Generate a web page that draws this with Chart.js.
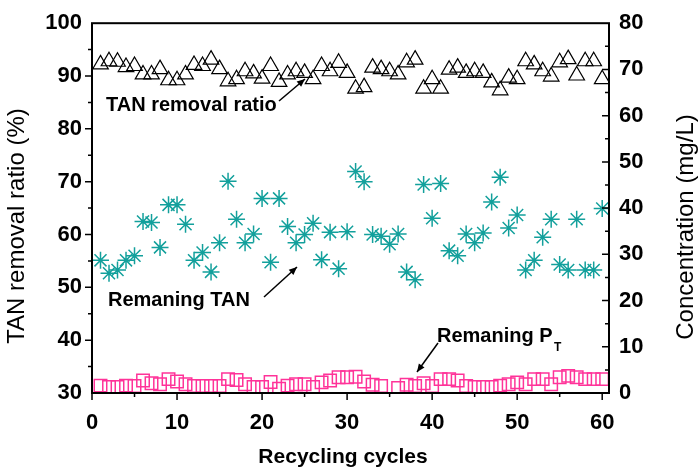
<!DOCTYPE html>
<html>
<head>
<meta charset="utf-8">
<script src="https://cdn.jsdelivr.net/npm/chart.js@4.4.1/dist/chart.umd.min.js"></script>
<style>
  html, body { margin: 0; padding: 0; background: #fff; }
  #wrap { width: 700px; height: 473px; position: relative; }
</style>
</head>
<body>
<div id="wrap"><canvas id="myChart"></canvas></div>
<script>
// Recycling cycles 1..60
const cycles = Array.from({ length: 60 }, (_, i) => i + 1);

// TAN removal ratio (%), left axis
const removalRatio = [
    92.2, 92.8, 92.7, 91.7, 91.9, 90.3, 90.3, 91.3, 89.2, 89.2,
    90.3, 92.1, 91.9, 93.1, 91.3, 89.0, 89.4, 90.9, 90.5, 89.5,
    91.9, 88.9, 90.3, 90.9, 90.6, 89.4, 91.9, 90.9, 92.5, 90.6,
    87.6, 87.9, 91.6, 91.3, 90.9, 90.3, 92.6, 93.1, 87.6, 89.4,
    87.6, 91.2, 91.6, 90.6, 90.9, 90.6, 88.8, 87.3, 89.7, 89.4,
    92.8, 92.2, 90.9, 89.9, 92.6, 93.2, 90.1, 92.8, 92.8, 89.4
];

// Remaning TAN (mg/L), right axis
const remainingTAN = [
    28.7, 25.9, 26.6, 28.7, 29.7, 37.1, 36.9, 31.5, 40.7, 40.7,
    36.5, 28.7, 30.4, 26.2, 32.5, 45.8, 37.6, 32.5, 34.4, 42.1,
    28.3, 42.1, 36.0, 32.5, 34.3, 36.7, 28.8, 34.8, 26.9, 34.9,
    47.9, 45.7, 34.3, 33.9, 32.2, 34.4, 26.2, 24.5, 45.1, 37.8,
    45.3, 30.8, 29.7, 34.4, 32.5, 34.6, 41.3, 46.7, 35.7, 38.5,
    26.6, 28.7, 33.7, 37.6, 27.8, 26.6, 37.6, 26.6, 26.6, 39.9
];

// Remaning PT (mg/L), right axis
const remainingPT = [
    1.6, 1.3, 1.3, 1.6, 1.5, 2.7, 2.1, 1.9, 3.0, 2.5,
    1.9, 1.5, 1.5, 1.5, 1.5, 3.0, 2.8, 1.9, 1.3, 1.3,
    2.4, 0.9, 1.6, 1.9, 1.9, 1.3, 2.3, 2.7, 3.4, 3.4,
    3.5, 2.5, 1.8, 1.5, null, 1.1, 1.8, 1.5, 2.1, 1.5,
    3.0, 3.0, 2.7, 1.5, 1.3, 1.3, 1.3, 1.6, 1.9, 2.3,
    1.9, 3.0, 3.0, 1.9, 3.4, 3.7, 3.4, 3.0, 3.0, 3.0
];

// tick labels
const xTicks = [0, 10, 20, 30, 40, 50, 60];
const leftTicks = [30, 40, 50, 60, 70, 80, 90, 100];
const rightTicks = [0, 10, 20, 30, 40, 50, 60, 70, 80];

const toPoints = vals => cycles.map((c, i) => ({ x: c, y: vals[i] }));

const FONT = "'Liberation Sans', Arial, sans-serif";

// frame, tick marks, axis titles, annotations
const decorPlugin = {
    id: "decor",
    afterDraw(chart) {
        const ctx = chart.ctx;
        const a = chart.chartArea;
        const sx = chart.scales.x, sy = chart.scales.y, sy1 = chart.scales.y1;
        ctx.save();
        ctx.strokeStyle = "#000";
        ctx.lineWidth = 2;
        ctx.strokeRect(a.left, a.top, a.right - a.left, a.bottom - a.top);

        ctx.lineWidth = 1.5;
        ctx.beginPath();
        // bottom axis, outward
        for (let v = 0; v <= 60; v += 5) {
            const px = sx.getPixelForValue(v);
            const len = v % 10 === 0 ? 7 : 4;
            ctx.moveTo(px, a.bottom);
            ctx.lineTo(px, a.bottom + len);
        }
        // left axis, outward
        for (let v = 35; v <= 95; v += 5) {
            const py = sy.getPixelForValue(v);
            const len = v % 10 === 0 ? 7 : 4;
            ctx.moveTo(a.left, py);
            ctx.lineTo(a.left - len, py);
        }
        // right axis, inward
        for (let v = 5; v <= 75; v += 5) {
            const py = sy1.getPixelForValue(v);
            const len = v % 10 === 0 ? 7 : 4;
            ctx.moveTo(a.right, py);
            ctx.lineTo(a.right - len, py);
        }
        ctx.stroke();

        // axis titles
        ctx.fillStyle = "#000";
        ctx.textAlign = "center";
        ctx.textBaseline = "middle";
        ctx.font = "bold 21px " + FONT;
        ctx.fillText("Recycling cycles", 343, 457);

        ctx.font = "24px " + FONT;
        ctx.save();
        ctx.translate(17, 226);
        ctx.rotate(-Math.PI / 2);
        ctx.fillText("TAN removal ratio (%)", 0, 0);
        ctx.restore();
        ctx.save();
        ctx.translate(686, 227);
        ctx.rotate(-Math.PI / 2);
        ctx.fillText("Concentration (mg/L)", 0, 0);
        ctx.restore();

        // annotations
        ctx.font = "bold 20px " + FONT;
        ctx.textAlign = "left";
        ctx.fillText("TAN removal ratio", 106, 105);
        ctx.fillText("Remaning TAN", 108, 300);
        ctx.fillText("Remaning P", 437, 336);
        ctx.font = "bold 12px " + FONT;
        ctx.fillText("T", 554, 348);

        function arrow(x1, y1, x2, y2) {
            ctx.beginPath();
            ctx.lineWidth = 1.5;
            ctx.moveTo(x1, y1);
            ctx.lineTo(x2, y2);
            ctx.stroke();
            const ang = Math.atan2(y2 - y1, x2 - x1);
            const h = 8, w = 3.5;
            ctx.beginPath();
            ctx.moveTo(x2, y2);
            ctx.lineTo(x2 - h * Math.cos(ang) + w * Math.sin(ang), y2 - h * Math.sin(ang) - w * Math.cos(ang));
            ctx.lineTo(x2 - h * Math.cos(ang) - w * Math.sin(ang), y2 - h * Math.sin(ang) + w * Math.cos(ang));
            ctx.closePath();
            ctx.fill();
        }
        arrow(279, 101, 305, 79);
        arrow(264, 297, 297, 267);
        arrow(438, 343, 417, 372);
        ctx.restore();
    }
};

document.addEventListener("DOMContentLoaded", () => {
    const ctx = document.getElementById("myChart").getContext("2d");
    new Chart(ctx, {
        type: "scatter",
        data: {
            datasets: [
                {
                    label: "TAN removal ratio",
                    data: toPoints(removalRatio),
                    yAxisID: "y",
                    pointStyle: "triangle",
                    pointRadius: 9,
                    borderColor: "#000",
                    backgroundColor: "rgba(0,0,0,0)",
                    borderWidth: 1.2,
                },
                {
                    label: "Remaning TAN",
                    data: toPoints(remainingTAN),
                    yAxisID: "y1",
                    pointStyle: "star",
                    pointRadius: 8.5,
                    borderColor: "#13a09c",
                    backgroundColor: "rgba(0,0,0,0)",
                    borderWidth: 1.5,
                },
                {
                    label: "Remaning PT",
                    data: toPoints(remainingPT),
                    yAxisID: "y1",
                    pointStyle: "rect",
                    pointRadius: 8.8,
                    borderColor: "#ff3399",
                    backgroundColor: "rgba(0,0,0,0)",
                    borderWidth: 1.5,
                },
            ],
        },
        options: {
            responsive: true,
            maintainAspectRatio: false,
            animation: false,
            layout: { padding: { top: 12, left: 0, right: 0, bottom: 0 } },
            plugins: {
                legend: { display: false },
                tooltip: { enabled: false },
            },
            scales: {
                x: {
                    type: "linear",
                    min: 0,
                    max: 60.8,
                    afterFit: s => { s.height = 80; },
                    afterBuildTicks: s => { s.ticks = xTicks.map(v => ({ value: v })); },
                    grid: { display: false, drawTicks: false },
                    border: { display: false },
                    ticks: {
                        padding: 17,
                        color: "#000",
                        font: { family: FONT, size: 22, weight: "bold" },
                    },
                },
                y: {
                    position: "left",
                    min: 30,
                    max: 100,
                    afterFit: s => { s.width = 92; },
                    afterBuildTicks: s => { s.ticks = leftTicks.map(v => ({ value: v })); },
                    grid: { display: false, drawTicks: false },
                    border: { display: false },
                    ticks: {
                        padding: 10,
                        color: "#000",
                        font: { family: FONT, size: 22, weight: "bold" },
                    },
                },
                y1: {
                    position: "right",
                    min: 0,
                    max: 80,
                    afterFit: s => { s.width = 91; },
                    afterBuildTicks: s => { s.ticks = rightTicks.map(v => ({ value: v })); },
                    grid: { display: false, drawTicks: false },
                    border: { display: false },
                    ticks: {
                        padding: 10,
                        color: "#000",
                        font: { family: FONT, size: 22, weight: "bold" },
                    },
                },
            },
        },
        plugins: [decorPlugin],
    });
});
</script>
</body>
</html>
